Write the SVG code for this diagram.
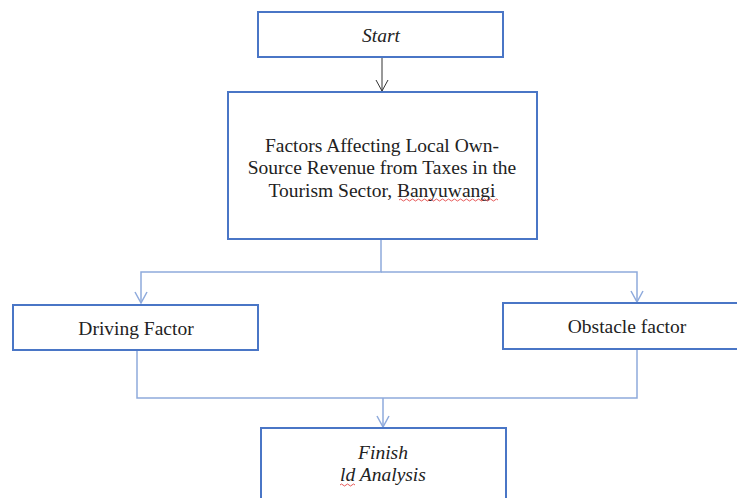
<svg xmlns="http://www.w3.org/2000/svg" width="737" height="498" viewBox="0 0 737 498">
<style>
.box{fill:#fff;stroke:#4a76c6;stroke-width:2}
.t{font-family:"Liberation Serif",serif;font-size:19.5px;fill:#222;text-anchor:middle}
.i{font-style:italic}
.c{fill:none;stroke:#8eaadc;stroke-width:1.5}
.k{fill:none;stroke:#333;stroke-width:1}
</style>
<defs>
<marker id="a" markerWidth="14" markerHeight="14" refX="12" refY="7" orient="auto" markerUnits="userSpaceOnUse" viewBox="0 0 14 14"><path d="M1 1 L12 7 L1 13" fill="none" stroke="#8eaadc" stroke-width="1.5"/></marker>
<marker id="b" markerWidth="14" markerHeight="14" refX="12" refY="7" orient="auto" markerUnits="userSpaceOnUse" viewBox="0 0 14 14"><path d="M1 1 L12 7 L1 13" fill="none" stroke="#333" stroke-width="1"/></marker>
</defs>
<g id="connectors">
<path class="k" d="M382 58 V91" marker-end="url(#b)"/>
<path class="c" d="M381 240 V272 H141 V303" marker-end="url(#a)"/>
<path class="c" d="M381 272 H637 V302" marker-end="url(#a)"/>
<path class="c" d="M137 351 V398 H637 V350"/>
<path class="c" d="M383 398 V427" marker-end="url(#a)"/>
</g>
<g id="start"><rect class="box" x="258" y="12" width="245" height="45"/><text class="t i" x="381" y="42">Start</text></g>
<g id="factors"><rect class="box" x="228" y="92" width="309" height="147"/>
<text class="t" x="382" y="152">Factors Affecting Local Own-</text>
<text class="t" x="382" y="174">Source Revenue from Taxes in the</text>
<text class="t" x="382" y="197">Tourism Sector, Banyuwangi</text>
<path d="M399 200 q1.5 -2 3 0 t3 0 t3 0 t3 0 t3 0 t3 0 t3 0 t3 0 t3 0 t3 0 t3 0 t3 0 t3 0 t3 0 t3 0 t3 0 t3 0 t3 0 t3 0 t3 0 t3 0 t3 0 t3 0 t3 0 t3 0 t3 0 t3 0 t3 0 t3 0 t3 0 t3 0 t3 0 t3 0" fill="none" stroke="#e03030" stroke-width="0.8"/>
</g>
<g id="driving"><rect class="box" x="13" y="305" width="245" height="45"/><text class="t" x="136" y="335">Driving Factor</text></g>
<g id="obstacle"><rect class="box" x="503" y="303" width="240" height="46"/><text class="t" x="627" y="333">Obstacle factor</text></g>
<g id="finish"><rect class="box" x="261" y="428" width="245" height="75"/>
<text class="t i" x="383" y="459">Finish</text>
<text class="t i" x="383" y="481">ld Analysis</text>
<path d="M340 485 q1.5 -2 3 0 t3 0 t3 0 t3 0 t3 0" fill="none" stroke="#e03030" stroke-width="0.8"/>
</g>
</svg>
